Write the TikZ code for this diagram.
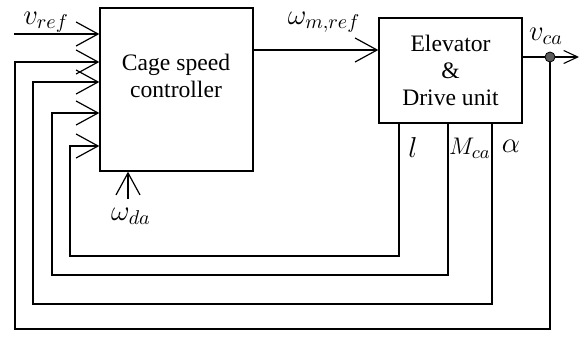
\documentclass[tikz,border=0pt]{standalone}
\usepackage{fontspec}
\setmainfont{Liberation Serif}
\usetikzlibrary{arrows.meta,positioning}

\tikzset{
  blk/.style={draw, line width=0.7pt, inner sep=0pt, align=center,
    font=\fontsize{11.8}{13.5}\selectfont},
  sig/.style={line width=0.55pt,
    -{Straight Barb[length=11pt,width=12pt,line width=0.6pt]}},
  outsig/.style={line width=0.55pt, -{Straight Barb[length=7pt,width=6.5pt]}},
  lbl/.style={font=\fontsize{14}{16}\selectfont, inner sep=1pt},
}

\begin{document}
\begin{tikzpicture}[x=0.5pt,y=-0.5pt]
  \useasboundingbox (0,0) rectangle (581,336);

  % Blocks
  \node[blk, minimum width=76.5pt, minimum height=81.5pt] (ctrl) at (176.5,89.5) {};
  \node[blk, draw=none] (ctrltxt) at (176,76) {Cage speed\\controller};
  \node[blk, minimum width=71.5pt, minimum height=52.5pt] (plant) at (450.5,70.5)
    {Elevator\\\&\\Drive unit};

  % Pick-off point on the output
  \node[circle, draw, fill=black!65, inner sep=0pt, minimum size=5pt] (dot) at (550,57) {};
  \coordinate (vout) at (579,57);

  % Inputs
  \coordinate (vin) at (14,34);
  \draw[sig] (vin) -- (vin -| ctrl.west);
  \node[lbl] (vref) at (46,22) {$v_{ref}$};

  \coordinate (wda) at (128,199);
  \draw[sig] (wda) -- (wda |- ctrl.south);
  \node[lbl] (wdalbl) at (131,216) {$\omega_{da}$};

  % Forward path
  \draw[sig] (ctrl.east |- 0,50) -- (plant.west |- 0,50);
  \node[lbl] (wmref) at (324,22) {$\omega_{m,ref}$};

  \draw[line width=0.55pt] (plant.east |- dot) -- (dot);
  \draw[outsig] (dot) -- (vout);
  \node[lbl] (vca) at (546,36) {$v_{ca}$};

  % Feedback loops
  \draw[sig] (plant.south -| 399,0) |- (70,256) |- (ctrl.west |- 0,146);
  \draw[sig] (plant.south -| 448,0) |- (52,275) |- (ctrl.west |- 0,113);
  \draw[sig] (plant.south -| 492,0) |- (33,304) |- (ctrl.west |- 0,82);
  \draw[sig] (dot) |- (15,329) |- (ctrl.west |- 0,62);

  \node[lbl, font=\fontsize{15}{17}\selectfont] (llbl) at (413,147) {$l$};
  \node[lbl, font=\fontsize{12.5}{15}\selectfont] (mlbl) at (470,148) {$M_{ca}$};
  \node[lbl, font=\fontsize{15}{17}\selectfont] (albl) at (511,146) {$\alpha$};

\end{tikzpicture}
\end{document}
